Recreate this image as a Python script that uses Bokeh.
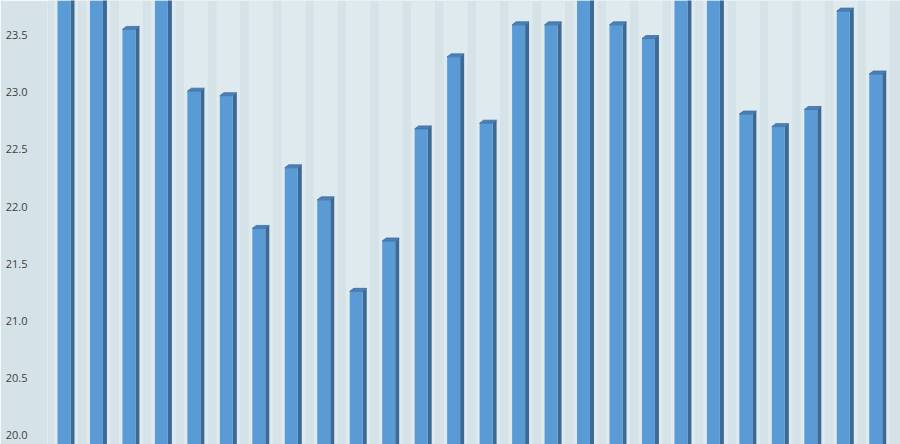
from bokeh.models import ColumnDataSource, FixedTicker, PrintfTickFormatter, Range1d
from bokeh.plotting import figure
from bokeh.embed import file_html
from bokeh.resources import INLINE

# bar values (bars running off the top are estimates)
bars = list(range(1, 27))
values = [24.10, 24.20, 23.55, 23.95, 23.01, 22.97, 21.81, 22.34, 22.06, 21.26,
          21.70, 22.68, 23.31, 22.73, 23.59, 23.59, 24.00, 23.59, 23.47, 24.30,
          24.10, 22.81, 22.70, 22.85, 23.71, 23.16]
y_ticks = [20.0, 20.5, 21.0, 21.5, 22.0, 22.5, 23.0, 23.5]

BG = "#d5e3e8"
FRONT = "#5b9bd5"
SIDE = "#3c6a95"
TOP = "#4a80b8"

# 3d look: half width of the front face, depth offset in x and y
hw = 0.2
dx = 0.123
dy = 0.026
base = 19.0

side_xs, side_ys, top_xs, top_ys = [], [], [], []
for x, v in zip(bars, values):
    side_xs.append([x + hw, x + hw + dx, x + hw + dx, x + hw])
    side_ys.append([base, base + dy, v + dy, v])
    top_xs.append([x - hw, x + hw, x + hw + dx, x - hw + dx])
    top_ys.append([v, v, v + dy, v + dy])

src = ColumnDataSource(dict(x=bars, top=values))

p = figure(width=900, height=444, output_backend="svg", toolbar_location=None,
           x_range=Range1d(0.492, 26.762), y_range=Range1d(19.921, 23.8025),
           min_border_left=47, min_border_right=0, min_border_top=0, min_border_bottom=0)
p.background_fill_color = BG
p.border_fill_color = BG
p.outline_line_color = None
p.xgrid.visible = False
p.ygrid.visible = False
p.xaxis.visible = False

# pale glow around each bar
p.vbar(x=[b + 0.06 for b in bars], top=24.5, bottom=base, width=0.74,
       fill_color="#eaf2f4", fill_alpha=0.5, line_color=None)

p.patches(side_xs, side_ys, fill_color=SIDE, line_color=None)
p.vbar(x="x", top="top", bottom=base, width=2 * hw, source=src,
       fill_color=FRONT, line_color=None)
p.patches(top_xs, top_ys, fill_color=TOP, line_color="#3f6f9e", line_width=0.8)

yax = p.yaxis[0]
yax.ticker = FixedTicker(ticks=y_ticks)
yax.formatter = PrintfTickFormatter(format="%.1f")
yax.axis_line_color = None
yax.major_tick_line_color = None
yax.minor_tick_line_color = None
yax.major_label_standoff = 14
yax.major_label_text_font = "Open Sans"
yax.major_label_text_font_size = "11px"
yax.major_label_text_color = "#404040"

open("out.html", "w").write(file_html(p, INLINE))
